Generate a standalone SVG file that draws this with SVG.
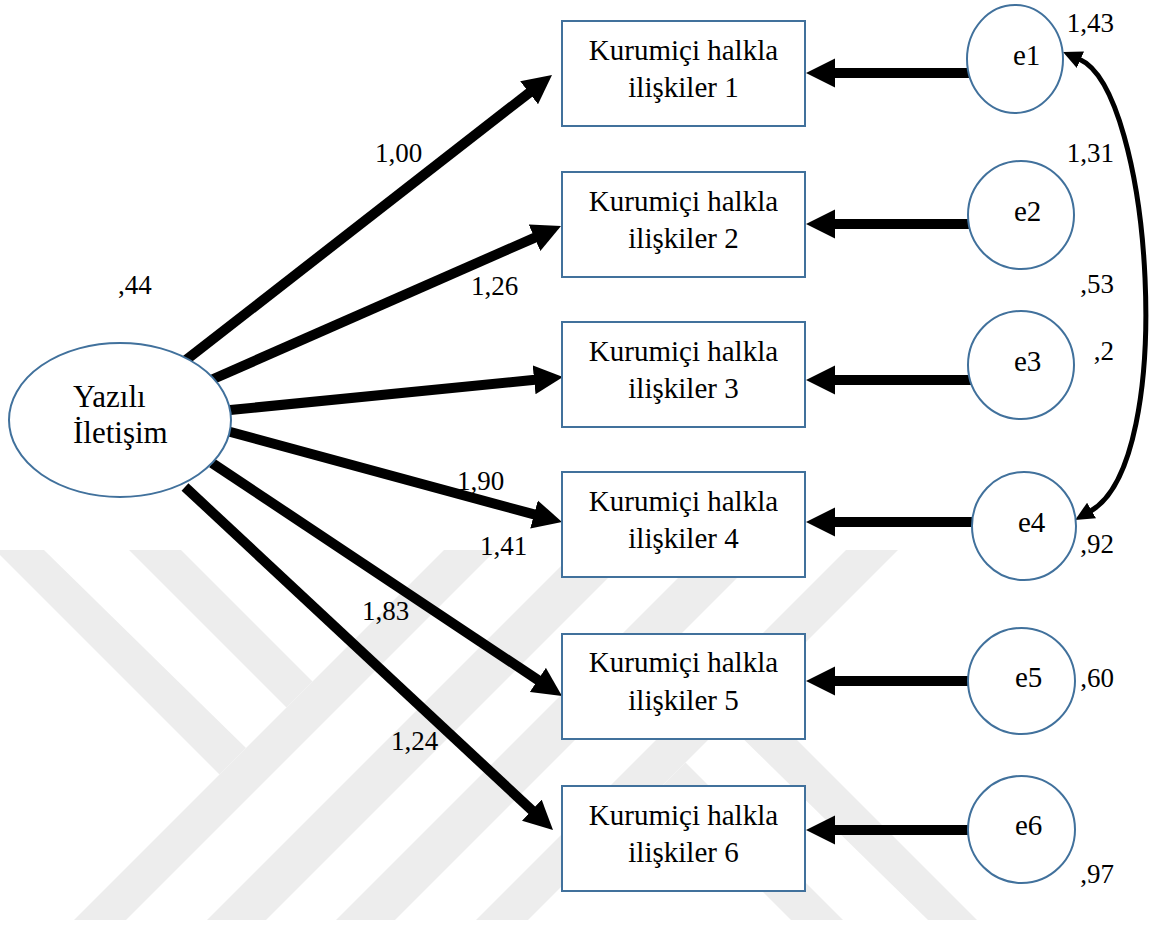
<svg xmlns="http://www.w3.org/2000/svg" width="1151" height="925" viewBox="0 0 1151 925">
  <style>
    .wm { fill: #ededed; }
    .box { fill: #ffffff; stroke: #41719c; stroke-width: 2; }
    .lat { fill: #ffffff; stroke: #41719c; stroke-width: 2; }
    text { font-family: 'Liberation Serif', 'DejaVu Serif', 'Times New Roman', serif; fill: #000000; }
    .node-txt { font-size: 29px; text-anchor: middle; }
    .err-txt { font-size: 29px; }
    .coef { font-size: 27px; }
    .coef-r { font-size: 27px; text-anchor: end; }
    .path-line { stroke: #000000; stroke-width: 10; fill: none; }
    .cov-line { stroke: #000000; stroke-width: 5; fill: none; }
  </style>
  <defs>
    <marker id="head" markerUnits="userSpaceOnUse" viewBox="0 -15 30 30" markerWidth="30" markerHeight="30" refX="1" refY="0" orient="auto">
      <path d="M0,-14.5 L29,0 L0,14.5 z" fill="#000000"/>
    </marker>
    <marker id="headSm" markerUnits="userSpaceOnUse" viewBox="0 -10 20 20" markerWidth="20" markerHeight="20" refX="1" refY="0" orient="auto-start-reverse">
      <path d="M0,-9 L19,0 L0,9 z" fill="#000000"/>
    </marker>
  </defs>

  <rect x="0" y="0" width="1151" height="925" fill="#ffffff"/>

  <!-- background stripe emblem -->
  <g id="emblem">
    <polygon class="wm" points="-5,550 44,550 246,748 219.5,774.5"/>
    <polygon class="wm" points="129,550 181,550 312.5,681.5 286.5,707.5"/>
    <polygon class="wm" points="74,920 126,920 496,550 444,550"/>
    <polygon class="wm" points="207,920 266,920 636,550 577,550"/>
    <polygon class="wm" points="336,920 395,920 765,550 706,550"/>
    <polygon class="wm" points="476,920 528,920 898,550 846,550"/>
    <polygon class="wm" points="726,722 752.5,695.5 977,920 928,920"/>
    <polygon class="wm" points="659.5,788.5 685.5,762.5 843,920 791,920"/>
  </g>

  <!-- paths, error arrows and the e1-e4 covariance -->
  <g id="connectors">
    <line class="path-line" x1="186" y1="360" x2="529.9" y2="92.2" marker-end="url(#head)"/>
    <line class="path-line" x1="211" y1="380" x2="535.4" y2="237.3" marker-end="url(#head)"/>
    <line class="path-line" x1="225" y1="410.5" x2="535.1" y2="379.8" marker-end="url(#head)"/>
    <line class="path-line" x1="225" y1="430.5" x2="535" y2="514.7" marker-end="url(#head)"/>
    <line class="path-line" x1="212" y1="463" x2="538.7" y2="680.5" marker-end="url(#head)"/>
    <line class="path-line" x1="185" y1="487" x2="532.5" y2="810.9" marker-end="url(#head)"/>

    <line class="path-line" x1="980" y1="73" x2="834" y2="73" marker-end="url(#head)"/>
    <line class="path-line" x1="980" y1="224" x2="834" y2="224" marker-end="url(#head)"/>
    <line class="path-line" x1="980" y1="380" x2="834" y2="380" marker-end="url(#head)"/>
    <line class="path-line" x1="980" y1="522" x2="834" y2="522" marker-end="url(#head)"/>
    <line class="path-line" x1="980" y1="681" x2="834" y2="681" marker-end="url(#head)"/>
    <line class="path-line" x1="980" y1="830" x2="834" y2="830" marker-end="url(#head)"/>

    <path class="cov-line" d="M1079.5,59.3 C1152,91 1178,461 1090.7,511" marker-start="url(#headSm)" marker-end="url(#headSm)"/>
  </g>

  <!-- latent factor -->
  <g id="yazili-iletisim">
    <ellipse class="lat" cx="120" cy="420" rx="111" ry="77"/>
    <text x="73" y="407" font-size="31">Yazılı</text>
    <text x="73" y="443" font-size="31">İletişim</text>
  </g>

  <!-- observed indicators -->
  <g id="kih1">
    <rect class="box" x="562" y="21" width="243" height="105"/>
    <text class="node-txt" x="683.5" y="60">Kurumiçi halkla</text>
    <text class="node-txt" x="683.5" y="97">ilişkiler 1</text>
  </g>
  <g id="kih2">
    <rect class="box" x="562" y="172" width="243" height="105"/>
    <text class="node-txt" x="683.5" y="211">Kurumiçi halkla</text>
    <text class="node-txt" x="683.5" y="248">ilişkiler 2</text>
  </g>
  <g id="kih3">
    <rect class="box" x="562" y="322" width="243" height="105"/>
    <text class="node-txt" x="683.5" y="361">Kurumiçi halkla</text>
    <text class="node-txt" x="683.5" y="398">ilişkiler 3</text>
  </g>
  <g id="kih4">
    <rect class="box" x="562" y="472" width="243" height="105"/>
    <text class="node-txt" x="683.5" y="511">Kurumiçi halkla</text>
    <text class="node-txt" x="683.5" y="548">ilişkiler 4</text>
  </g>
  <g id="kih5">
    <rect class="box" x="562" y="634" width="243" height="105"/>
    <text class="node-txt" x="683.5" y="672">Kurumiçi halkla</text>
    <text class="node-txt" x="683.5" y="710">ilişkiler 5</text>
  </g>
  <g id="kih6">
    <rect class="box" x="562" y="786" width="243" height="105"/>
    <text class="node-txt" x="683.5" y="825">Kurumiçi halkla</text>
    <text class="node-txt" x="683.5" y="862">ilişkiler 6</text>
  </g>

  <!-- error terms -->
  <g id="e1">
    <ellipse class="lat" cx="1015" cy="59" rx="48" ry="54"/>
    <text class="err-txt" x="1013" y="65">e1</text>
  </g>
  <g id="e2">
    <ellipse class="lat" cx="1021" cy="215" rx="53" ry="54"/>
    <text class="err-txt" x="1014" y="221">e2</text>
  </g>
  <g id="e3">
    <ellipse class="lat" cx="1021" cy="365" rx="53" ry="54"/>
    <text class="err-txt" x="1014" y="371">e3</text>
  </g>
  <g id="e4">
    <ellipse class="lat" cx="1024" cy="526" rx="52" ry="54"/>
    <text class="err-txt" x="1018" y="532">e4</text>
  </g>
  <g id="e5">
    <ellipse class="lat" cx="1021.5" cy="681" rx="53.5" ry="53"/>
    <text class="err-txt" x="1015" y="687">e5</text>
  </g>
  <g id="e6">
    <ellipse class="lat" cx="1021.5" cy="829.5" rx="53.5" ry="53.5"/>
    <text class="err-txt" x="1015" y="835">e6</text>
  </g>

  <!-- estimates -->
  <g id="estimates">
    <text class="coef" x="375" y="162">1,00</text>
    <text class="coef" x="118" y="294">,44</text>
    <text class="coef" x="471" y="295">1,26</text>
    <text class="coef" x="457" y="490">1,90</text>
    <text class="coef" x="480" y="555">1,41</text>
    <text class="coef" x="362" y="620">1,83</text>
    <text class="coef" x="391" y="750">1,24</text>
    <text class="coef-r" x="1114" y="32">1,43</text>
    <text class="coef-r" x="1114" y="162">1,31</text>
    <text class="coef-r" x="1114" y="293">,53</text>
    <text class="coef-r" x="1114" y="360">,2</text>
    <text class="coef-r" x="1114" y="553">,92</text>
    <text class="coef-r" x="1114" y="687">,60</text>
    <text class="coef-r" x="1114" y="883">,97</text>
  </g>
</svg>
